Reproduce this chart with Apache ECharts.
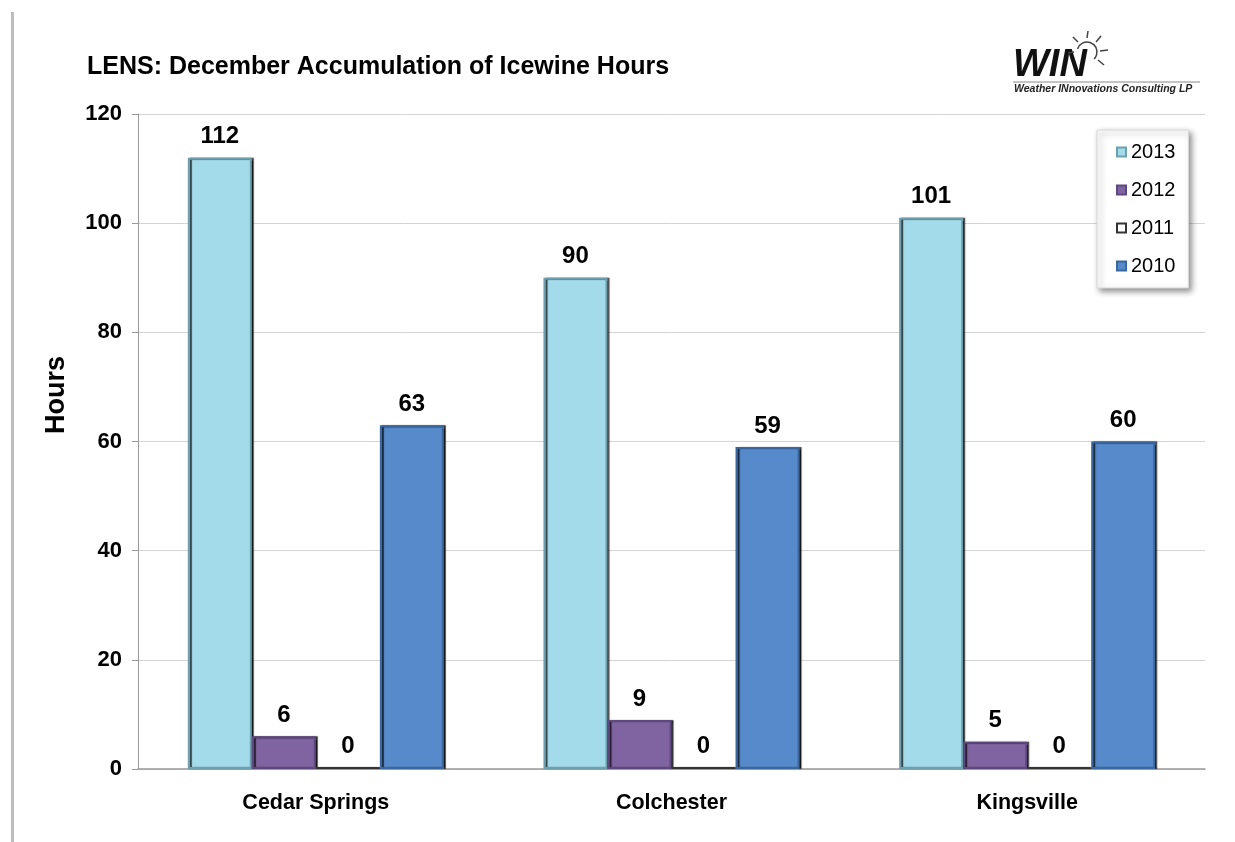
<!DOCTYPE html>
<html><head><meta charset="utf-8">
<script src="https://cdn.jsdelivr.net/npm/echarts@6/dist/echarts.min.js"></script>
<style>html,body{margin:0;padding:0;background:#fff}#c{width:1235px;height:842px}</style>
</head><body><div id="c"></div>
<script>
const categories = ['Cedar Springs', 'Colchester', 'Kingsville'];
const seriesNames = ['2013', '2012', '2011', '2010'];
const v2013 = [112, 90, 101];
const v2012 = [6, 9, 5];
const v2011 = [0, 0, 0];
const v2010 = [63, 59, 60];
const yTicks = [0, 20, 40, 60, 80, 100, 120];

const FONT = '"Liberation Sans", Arial, sans-serif';
const styles = [
  {color: '#A3DBEB', borderColor: '#6E9FAE'},
  {color: '#8064A2', borderColor: '#5E4880'},
  {color: '#FFFFFF', borderColor: '#333333'},
  {color: '#568ACB', borderColor: '#3A679E'}
];
const data = [v2013, v2012, v2011, v2010];

const chart = echarts.init(document.getElementById('c'), null, {renderer: 'canvas'});
chart.setOption({
  backgroundColor: '#fff',
  animation: false,
  grid: {left: 138, right: 30, top: 114, bottom: 73, containLabel: false},
  title: {
    text: 'LENS: December Accumulation of Icewine Hours',
    left: 82, top: 50,
    textStyle: {fontFamily: FONT, fontWeight: 'bold', fontSize: 25, color: '#000'}
  },
  legend: {
    orient: 'vertical', left: 1097, top: 130,
    data: seriesNames,
    icon: 'rect', itemWidth: 9, itemHeight: 9, itemGap: 18,
    padding: [12, 13, 12, 19],
    backgroundColor: '#fff', borderColor: '#d8d8d8', borderWidth: 1,
    shadowColor: 'rgba(0,0,0,0.45)', shadowBlur: 6, shadowOffsetX: 3, shadowOffsetY: 3,
    textStyle: {fontFamily: FONT, fontSize: 20, color: '#000', lineHeight: 18, padding: [0, 0, 0, 0]}
  },
  xAxis: {
    type: 'category', data: categories,
    axisLine: {show: true, lineStyle: {color: '#999', width: 1.5}},
    axisTick: {show: false},
    axisLabel: {fontFamily: FONT, fontWeight: 'bold', fontSize: 21.5, color: '#000', margin: 23}
  },
  yAxis: {
    type: 'value', min: 0, max: 120, interval: 20,
    axisLine: {show: true, lineStyle: {color: '#999'}},
    axisTick: {show: true, length: 6, lineStyle: {color: '#999'}},
    splitLine: {lineStyle: {color: '#D4D4D4', width: 1}},
    axisLabel: {
      fontFamily: FONT, fontWeight: 'bold', fontSize: 22, color: '#000', margin: 16,
      formatter: v => yTicks.includes(v) ? String(v) : ''
    }
  },
  graphic: [
    {type: 'rect', shape: {x: 11, y: 12, width: 3, height: 840}, style: {fill: '#bdbdbd'}},
    {type: 'text', x: 57, y: 395, rotation: Math.PI / 2, style: {
      text: 'Hours', fontFamily: FONT, fontWeight: 'bold', fontSize: 27, fill: '#000',
      textAlign: 'center', textVerticalAlign: 'middle'}},
    {type: 'text', x: 1013, y: 47, style: {
      text: 'WIN', fontFamily: FONT, fontWeight: 'bold', fontStyle: 'italic', fontSize: 38, fill: '#111'}},
    {type: 'line', shape: {x1: 1013, y1: 82, x2: 1200, y2: 82}, style: {stroke: '#888', lineWidth: 1}},
    {type: 'text', x: 1014, y: 84, style: {
      text: 'Weather INnovations Consulting LP', fontFamily: FONT, fontWeight: 'bold', fontStyle: 'italic', fontSize: 10.5, fill: '#222'}},
    {type: 'arc', shape: {cx: 1087, cy: 52, r: 10, startAngle: Math.PI * 1.1, endAngle: Math.PI * 0.25}, style: {stroke: '#444', lineWidth: 1.5, fill: null}},
    {type: 'line', shape: {x1: 1087, y1: 38, x2: 1088, y2: 31}, style: {stroke: '#444', lineWidth: 1.5}},
    {type: 'line', shape: {x1: 1096, y1: 42, x2: 1101, y2: 36}, style: {stroke: '#444', lineWidth: 1.5}},
    {type: 'line', shape: {x1: 1100, y1: 51, x2: 1108, y2: 50}, style: {stroke: '#444', lineWidth: 1.5}},
    {type: 'line', shape: {x1: 1098, y1: 60, x2: 1104, y2: 65}, style: {stroke: '#444', lineWidth: 1.5}},
    {type: 'line', shape: {x1: 1078, y1: 42, x2: 1073, y2: 37}, style: {stroke: '#444', lineWidth: 1.5}},
    {type: 'line', shape: {x1: 1074, y1: 52, x2: 1068, y2: 53}, style: {stroke: '#444', lineWidth: 1.5}}
  ],
  series: seriesNames.map((name, i) => ({
    name, type: 'bar', data: data[i],
    barGap: '0%', barCategoryGap: '28%',
    barMinHeight: i === 2 ? 2 : 0,
    itemStyle: {
      color: styles[i].color, borderColor: styles[i].borderColor, borderWidth: 2,
      shadowColor: 'rgba(0,0,0,0.75)', shadowOffsetX: 2, shadowOffsetY: 0, shadowBlur: 1
    },
    label: {show: true, position: 'top', distance: 9, fontFamily: FONT, fontWeight: 'bold', fontSize: 24, color: '#000'}
  }))
});
</script></body></html>
